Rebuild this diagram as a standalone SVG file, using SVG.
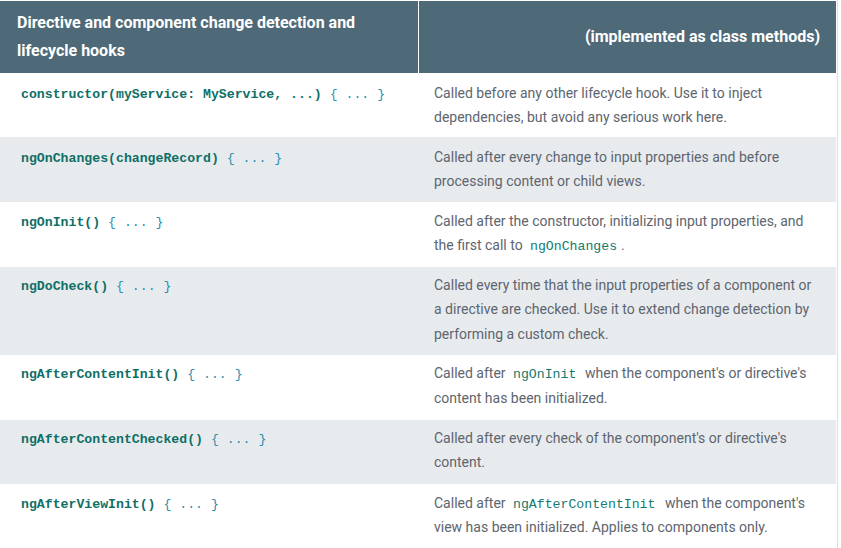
<svg xmlns="http://www.w3.org/2000/svg" width="841" height="548" viewBox="0 0 841 548">
<style>
.hd{font-family:Roboto,"Liberation Sans",sans-serif;font-size:16px;font-weight:bold;fill:#ffffff}
.code{font-family:"Liberation Mono","DejaVu Sans Mono",monospace;font-size:13.2px;font-weight:bold;fill:#0f6f66}
.br{font-weight:normal;fill:#2a8fb0}
.ds{font-family:Roboto,"Liberation Sans",sans-serif;font-size:14px;fill:#5d656e}
.ic{font-family:"Liberation Mono","DejaVu Sans Mono",monospace;font-size:13.2px;fill:#137a6e}
.odd{fill:#ffffff}
.even{fill:#e8ebee}
</style>
<rect x="0" y="0" width="841" height="548" fill="#ffffff"/>
<g id="header">
<rect x="0" y="1" width="836" height="72" fill="#4e6a78"/>
<line x1="418.5" y1="1" x2="418.5" y2="73" stroke="#ffffff" stroke-width="1"/>
<text class="hd" x="17" y="28">Directive and component change detection and</text>
<text class="hd" x="17" y="56">lifecycle hooks</text>
<text class="hd" x="820" y="42" text-anchor="end">(implemented as class methods)</text>
</g>
<g id="row-constructor">
<rect class="odd" x="0" y="73" width="836" height="64"/>
<text class="code" x="21" y="98">constructor(myService: MyService, ...)<tspan class="br"> { ... }</tspan></text>
<text class="ds" x="434" y="98">Called before any other lifecycle hook. Use it to inject</text>
<text class="ds" x="434" y="122">dependencies, but avoid any serious work here.</text>
</g>
<g id="row-ngOnChanges">
<rect class="even" x="0" y="137" width="836" height="65"/>
<text class="code" x="21" y="162">ngOnChanges(changeRecord)<tspan class="br"> { ... }</tspan></text>
<text class="ds" x="434" y="162">Called after every change to input properties and before</text>
<text class="ds" x="434" y="186">processing content or child views.</text>
</g>
<g id="row-ngOnInit">
<rect class="odd" x="0" y="202" width="836" height="65"/>
<text class="code" x="21" y="226">ngOnInit()<tspan class="br"> { ... }</tspan></text>
<text class="ds" x="434" y="226">Called after the constructor, initializing input properties, and</text>
<text class="ds" x="434" y="250">the first call to</text>
<text class="ic" x="530" y="250">ngOnChanges</text>
<text class="ds" x="621" y="250">.</text>
</g>
<g id="row-ngDoCheck">
<rect class="even" x="0" y="267" width="836" height="88"/>
<text class="code" x="21" y="290">ngDoCheck()<tspan class="br"> { ... }</tspan></text>
<text class="ds" x="434" y="290">Called every time that the input properties of a component or</text>
<text class="ds" x="434" y="314">a directive are checked. Use it to extend change detection by</text>
<text class="ds" x="434" y="339">performing a custom check.</text>
</g>
<g id="row-ngAfterContentInit">
<rect class="odd" x="0" y="355" width="836" height="65"/>
<text class="code" x="21" y="378">ngAfterContentInit()<tspan class="br"> { ... }</tspan></text>
<text class="ds" x="434" y="378">Called after</text>
<text class="ic" x="513" y="378">ngOnInit</text>
<text class="ds" x="585" y="378">when the component's or directive's</text>
<text class="ds" x="434" y="403">content has been initialized.</text>
</g>
<g id="row-ngAfterContentChecked">
<rect class="even" x="0" y="420" width="836" height="64"/>
<text class="code" x="21" y="443">ngAfterContentChecked()<tspan class="br"> { ... }</tspan></text>
<text class="ds" x="434" y="443">Called after every check of the component's or directive's</text>
<text class="ds" x="434" y="467">content.</text>
</g>
<g id="row-ngAfterViewInit">
<rect class="odd" x="0" y="484" width="836" height="64"/>
<text class="code" x="21" y="508">ngAfterViewInit()<tspan class="br"> { ... }</tspan></text>
<text class="ds" x="434" y="508">Called after</text>
<text class="ic" x="513" y="508">ngAfterContentInit</text>
<text class="ds" x="665" y="508">when the component's</text>
<text class="ds" x="434" y="532">view has been initialized. Applies to components only.</text>
</g>
<g id="connectors"></g>
<line x1="837.5" y1="0" x2="837.5" y2="548" stroke="#dddddd" stroke-width="1"/>
</svg>
